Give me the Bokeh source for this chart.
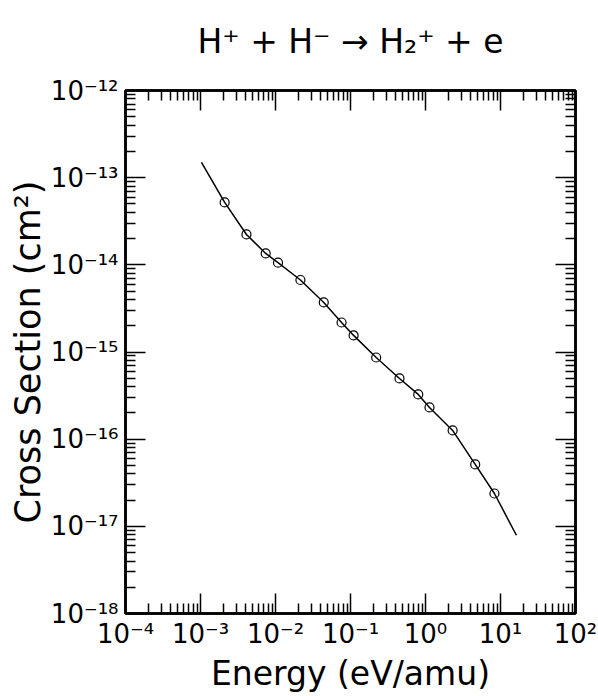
from bokeh.plotting import figure
from bokeh.models import LogAxis, FixedTicker
from bokeh.embed import file_html
from bokeh.resources import INLINE

# ---- data ----
energy = [2.1e-3, 4.1e-3, 7.4e-3, 1.08e-2, 2.15e-2, 4.4e-2, 7.6e-2, 0.11,
          0.22, 0.45, 0.8, 1.13, 2.3, 4.6, 8.3]
sigma = [5.2e-14, 2.23e-14, 1.35e-14, 1.06e-14, 6.7e-15, 3.7e-15, 2.18e-15,
         1.55e-15, 8.65e-16, 4.97e-16, 3.26e-16, 2.31e-16, 1.26e-16, 5.13e-17,
         2.38e-17]
fit_energy = [1.03e-3, 2.1e-3, 4.1e-3, 7.4e-3, 1.08e-2, 2.15e-2, 4.4e-2, 7.6e-2,
              0.11, 0.22, 0.45, 0.8, 1.13, 2.3, 4.6, 8.3, 16.3]
fit_sigma = [1.5e-13, 5.2e-14, 2.23e-14, 1.35e-14, 1.06e-14, 6.7e-15, 3.7e-15,
             2.18e-15, 1.55e-15, 8.65e-16, 4.97e-16, 3.26e-16, 2.31e-16,
             1.26e-16, 5.13e-17, 2.38e-17, 7.9e-18]

x_ticks = [1e-4, 1e-3, 1e-2, 1e-1, 1e0, 1e1, 1e2]
x_tick_labels = ["10\u207b\u2074", "10\u207b\u00b3", "10\u207b\u00b2", "10\u207b\u00b9",
                 "10\u2070", "10\u00b9", "10\u00b2"]
y_ticks = [1e-18, 1e-17, 1e-16, 1e-15, 1e-14, 1e-13, 1e-12]
y_tick_labels = ["10\u207b\u00b9\u2078", "10\u207b\u00b9\u2077", "10\u207b\u00b9\u2076",
                 "10\u207b\u00b9\u2075", "10\u207b\u00b9\u2074", "10\u207b\u00b9\u00b3",
                 "10\u207b\u00b9\u00b2"]
mantissas = [2, 3, 4, 5, 6, 7, 8, 9]

title_text = "H\u207a + H\u207b \u2192 H\u2082\u207a + e"
x_label = "Energy (eV/amu)"
y_label = "Cross Section (cm\u00b2)"

FONT = "DejaVu Sans"

x_minor = [m * t for t in x_ticks[:-1] for m in mantissas]
y_minor = [m * t for t in y_ticks[:-1] for m in mantissas]

W, H = 598, 696
p = figure(width=W, height=H, x_axis_type="log", y_axis_type="log",
           x_range=(x_ticks[0], x_ticks[-1]), y_range=(y_ticks[0], y_ticks[-1]),
           output_backend="svg", toolbar_location=None,
           min_border_left=125, min_border_right=23,
           min_border_top=90, min_border_bottom=83)
p.title.visible = False
p.xgrid.visible = False
p.ygrid.visible = False
p.outline_line_color = "black"
p.outline_line_width = 2.5
p.background_fill_color = "white"
p.border_fill_color = "white"

p.add_layout(LogAxis(), "above")
p.add_layout(LogAxis(), "right")

xt = FixedTicker(ticks=x_ticks, minor_ticks=x_minor)
yt = FixedTicker(ticks=y_ticks, minor_ticks=y_minor)

for ax in p.xaxis:
    ax.ticker = xt
for ax in p.yaxis:
    ax.ticker = yt

for ax in list(p.xaxis) + list(p.yaxis):
    ax.major_tick_in = 20
    ax.major_tick_out = 0
    ax.minor_tick_in = 10
    ax.minor_tick_out = 0
    ax.major_tick_line_width = 1.5
    ax.minor_tick_line_width = 1.5
    ax.major_tick_line_color = "black"
    ax.minor_tick_line_color = "black"
    ax.axis_line_width = 2.5
    ax.axis_line_color = "black"

# hidden tick labels on the top and right axes
for ax in (p.above[0], p.right[0]):
    ax.major_label_text_font_size = "1px"
    ax.major_label_text_alpha = 0
    ax.major_label_standoff = 0

# chart title carried by the top axis, centred over the frame
tx = p.above[0]
tx.axis_label = title_text
tx.axis_label_text_font = FONT
tx.axis_label_text_font_size = "33px"
tx.axis_label_text_font_style = "normal"
tx.axis_label_text_color = "black"
tx.axis_label_standoff = 30

# visible labels on the bottom and left axes
bx = p.below[0]
bx.major_label_overrides = dict(zip(x_ticks, x_tick_labels))
bx.major_label_text_font = FONT
bx.major_label_text_font_size = "26px"
bx.major_label_text_color = "black"
bx.major_label_standoff = 5
bx.axis_label = x_label
bx.axis_label_text_font = FONT
bx.axis_label_text_font_size = "33px"
bx.axis_label_text_font_style = "normal"
bx.axis_label_text_color = "black"
bx.axis_label_standoff = 2

ly = p.left[0]
ly.major_label_overrides = dict(zip(y_ticks, y_tick_labels))
ly.major_label_text_font = FONT
ly.major_label_text_font_size = "26px"
ly.major_label_text_color = "black"
ly.major_label_standoff = 7
ly.axis_label = y_label
ly.axis_label_text_font = FONT
ly.axis_label_text_font_size = "35px"
ly.axis_label_text_font_style = "normal"
ly.axis_label_text_color = "black"
ly.axis_label_standoff = 0

# fit curve and data points
p.line(fit_energy, fit_sigma, line_color="black", line_width=1.5)
p.scatter(energy, sigma, marker="circle", size=9, fill_color=None,
          line_color="black", line_width=1.2)

open("out.html", "w").write(file_html(p, INLINE))
